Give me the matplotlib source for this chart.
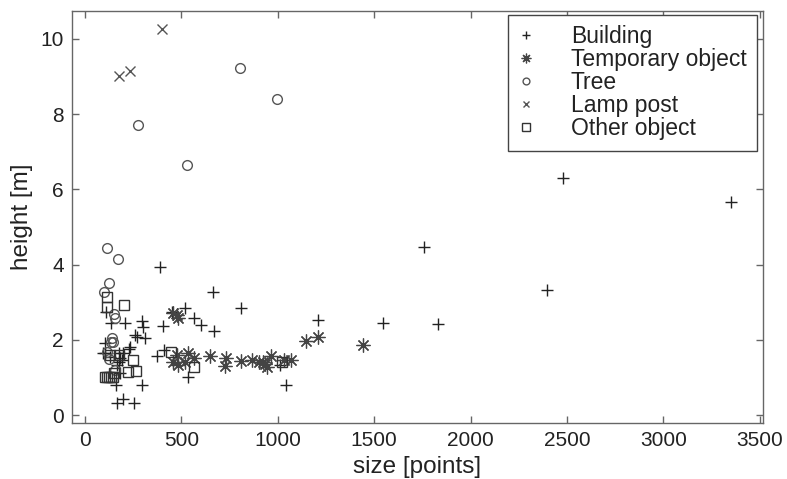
import matplotlib
matplotlib.use('Agg')
import matplotlib.pyplot as plt

plt.rcParams['font.family'] = ['Liberation Sans', 'DejaVu Sans']

# Building (+)
bld_x = [389, 666, 809, 1207, 1043, 671, 600, 567, 519, 450, 403, 372, 410, 536, 294, 199, 166, 256, 163,
         1010, 1548, 1833, 2398, 1760, 2480, 3350,
         109, 135, 209, 296, 302, 259, 270, 313, 233, 104, 105, 226, 200, 183, 175, 166, 131, 178, 190, 182, 95]
bld_y = [3.94, 3.26, 2.84, 2.53, 0.79, 2.24, 2.39, 2.59, 2.86, 2.73, 2.37, 1.58, 1.72, 1.02, 0.81, 0.44, 0.31, 0.31, 0.80,
         1.32, 2.46, 2.42, 3.32, 4.46, 6.30, 5.66,
         2.75, 2.44, 2.46, 2.50, 2.35, 2.13, 2.08, 2.04, 1.82, 1.92, 1.64, 1.77, 1.64, 1.51, 1.42, 1.33, 1.55, 1.64, 1.46, 1.11, 1.64]

# Temporary object (*)
tmp_x = [458, 475, 484, 475, 458, 484, 519, 533, 567, 648, 731, 726, 809, 868, 903, 925, 934, 942, 965,
         1032, 1067, 1145, 1210, 1440]
tmp_y = [2.72, 2.66, 2.57, 1.60, 1.42, 1.33, 1.42, 1.64, 1.53, 1.57, 1.51, 1.30, 1.44, 1.46, 1.42, 1.42, 1.36, 1.28, 1.57,
         1.46, 1.46, 1.98, 2.07, 1.86]

# Tree (o)
tree_x = [804, 996, 273, 527, 112, 170, 126, 100, 150, 154, 138, 133, 126, 114, 157, 144]
tree_y = [9.23, 8.39, 7.71, 6.66, 4.43, 4.15, 3.51, 3.26, 2.68, 2.57, 2.06, 1.95, 1.50, 1.68, 1.20, 1.95]

# Lamp post (x)
lamp_x = [398, 176, 233]
lamp_y = [10.26, 9.02, 9.15]

# Other object (square)
oth_x = [112, 112, 204, 247, 225, 264, 444, 567, 104, 114, 125, 135, 145, 149, 175, 130, 1020]
oth_y = [3.15, 2.88, 2.93, 1.46, 1.15, 1.17, 1.68, 1.28, 1.00, 1.00, 1.00, 1.00, 1.02, 1.11, 1.60, 1.60, 1.42]

fig = plt.figure(figsize=(7.87, 4.79), dpi=100)
ax = fig.add_axes([0.0915, 0.1169, 0.878, 0.860])

ax.plot(bld_x, bld_y, ls='none', marker='+', ms=9, mew=1.0, color='#222222', label='Building')
ax.plot(tmp_x, tmp_y, ls='none', marker=(8, 2, 0), ms=10, mew=0.9, color='#444444', label='Temporary object')
ax.plot(tree_x, tree_y, ls='none', marker='o', ms=7, mew=1.0, mfc='none', color='#555555', label='Tree')
ax.plot(lamp_x, lamp_y, ls='none', marker='x', ms=6.5, mew=1.0, color='#555555', label='Lamp post')
ax.plot(oth_x, oth_y, ls='none', marker='s', ms=7.5, mew=1.0, mfc='none', color='#333333', label='Other object')

ax.set_xlim(-67, 3517)
ax.set_ylim(-0.21, 10.74)
ax.set_xticks(range(0, 3501, 500))
ax.set_yticks(range(0, 11, 2))

for s in ax.spines.values():
    s.set_color('#666666')
    s.set_linewidth(1.0)
ax.tick_params(direction='in', top=True, right=True, length=5, width=1.0,
               color='#666666', labelsize=15, labelcolor='#222222', pad=6)

ax.set_xlabel('size [points]', fontsize=17.5, color='#222222', labelpad=4)
ax.set_ylabel('height [m]', fontsize=17.5, color='#222222', labelpad=5)

leg = ax.legend(loc='upper right', bbox_to_anchor=(0.991, 0.99), borderaxespad=0,
                fontsize=16.5, markerscale=0.7, fancybox=False, framealpha=1,
                edgecolor='#444444', handlelength=0.7, handletextpad=1.6,
                labelspacing=0.0, borderpad=0.45)
leg.get_frame().set_linewidth(1.0)
for t in leg.get_texts():
    t.set_color('#222222')

fig.savefig('out.png', dpi=100)
